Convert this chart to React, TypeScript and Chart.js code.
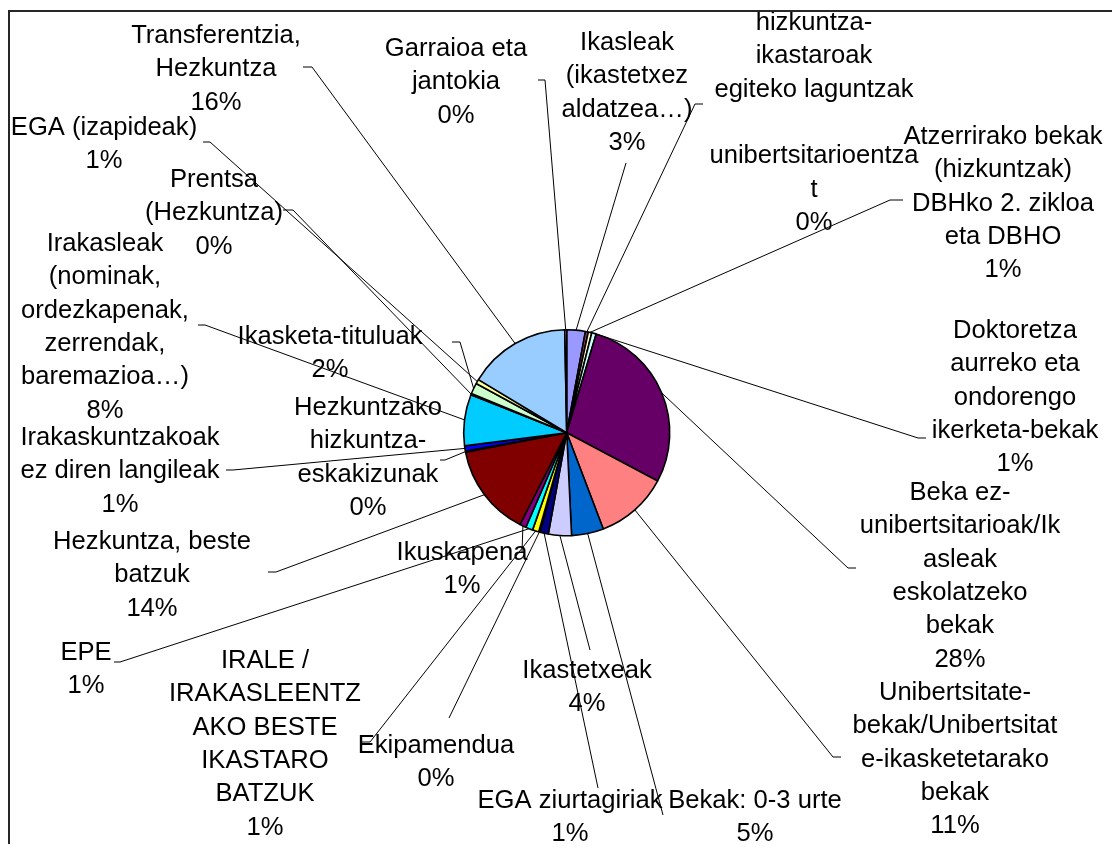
import React, { useEffect, useRef } from 'react';
import { Chart, registerables } from 'chart.js';

Chart.register(...registerables);

// ---- data ----
const categories: string[] = [
  'Ikasleak (ikastetxez aldatzea…)',
  'hizkuntza-ikastaroak egiteko laguntzak unibertsitarioentzat',
  'Atzerrirako bekak (hizkuntzak) DBHko 2. zikloa eta DBHO',
  'Doktoretza aurreko eta ondorengo ikerketa-bekak',
  'Beka ez-unibertsitarioak/Ikasleak eskolatzeko bekak',
  'Unibertsitate-bekak/Unibertsitate-ikasketetarako bekak',
  'Bekak: 0-3 urte',
  'Ikastetxeak',
  'EGA ziurtagiriak',
  'Ekipamendua',
  'IRALE / IRAKASLEENTZAKO BESTE IKASTARO BATZUK',
  'EPE',
  'Ikuskapena',
  'Hezkuntza, beste batzuk',
  'Hezkuntzako hizkuntza-eskakizunak',
  'Irakaskuntzakoak ez diren langileak',
  'Irakasleak (nominak, ordezkapenak, zerrendak, baremazioa…)',
  'Prentsa (Hezkuntza)',
  'Ikasketa-tituluak',
  'EGA (izapideak)',
  'Transferentzia, Hezkuntza',
  'Garraioa eta jantokia',
];

const values: number[] = [
  2.9, 0.45, 0.55, 0.7, 28.0, 11.4, 5.0, 3.6, 1.3, 0.2, 1.0,
  1.1, 1.0, 14.4, 0.2, 0.8, 8.0, 0.2, 1.7, 0.7, 16.0, 0.3,
];

// label text as wrapped in the picture (percentage is appended)
const labelLines: string[][] = [
  ['Ikasleak', '(ikastetxez', 'aldatzea…)'],
  ['hizkuntza-', 'ikastaroak', 'egiteko laguntzak', '', 'unibertsitarioentza', 't'],
  ['Atzerrirako bekak', '(hizkuntzak)', 'DBHko 2. zikloa', 'eta DBHO'],
  ['Doktoretza', 'aurreko eta', 'ondorengo', 'ikerketa-bekak'],
  ['Beka ez-', 'unibertsitarioak/Ik', 'asleak', 'eskolatzeko', 'bekak'],
  ['Unibertsitate-', 'bekak/Unibertsitat', 'e-ikasketetarako', 'bekak'],
  ['Bekak: 0-3 urte'],
  ['Ikastetxeak'],
  ['EGA ziurtagiriak'],
  ['Ekipamendua'],
  ['IRALE /', 'IRAKASLEENTZ', 'AKO BESTE', 'IKASTARO', 'BATZUK'],
  ['EPE'],
  ['Ikuskapena'],
  ['Hezkuntza, beste', 'batzuk'],
  ['Hezkuntzako', 'hizkuntza-', 'eskakizunak'],
  ['Irakaskuntzakoak', 'ez diren langileak'],
  ['Irakasleak', '(nominak,', 'ordezkapenak,', 'zerrendak,', 'baremazioa…)'],
  ['Prentsa', '(Hezkuntza)'],
  ['Ikasketa-tituluak'],
  ['EGA (izapideak)'],
  ['Transferentzia,', 'Hezkuntza'],
  ['Garraioa eta', 'jantokia'],
];

const colors: string[] = [
  '#9999FF', '#993366', '#FFFFCC', '#CCFFFF', '#660066', '#FF8080', '#0066CC',
  '#CCCCFF', '#000080', '#FF00FF', '#FFFF00', '#00FFFF', '#800080', '#800000',
  '#008080', '#0000FF', '#00CCFF', '#CCFFFF', '#CCFFCC', '#FFFF99', '#99CCFF',
  '#FF99CC',
];

// ---- label layout (page pixel coordinates): centre x, first baseline, leader elbow, leader end at label ----
type LabelPos = { cx: number; y0: number; elbow: [number, number]; tick: [number, number] };
const labelLayout: LabelPos[] = [
  { cx: 627, y0: 50, elbow: [626, 163], tick: [626, 163] },
  { cx: 814, y0: 30, elbow: [695, 104], tick: [703, 104] },
  { cx: 1003, y0: 144, elbow: [890, 200], tick: [903, 200] },
  { cx: 1015, y0: 338, elbow: [918, 438], tick: [926, 438] },
  { cx: 960, y0: 500, elbow: [848, 568], tick: [856, 568] },
  { cx: 955, y0: 700, elbow: [833, 757], tick: [841, 757] },
  { cx: 755, y0: 808, elbow: [663, 815], tick: [663, 815] },
  { cx: 587, y0: 678, elbow: [590, 650], tick: [590, 650] },
  { cx: 570, y0: 808, elbow: [598, 788], tick: [598, 788] },
  { cx: 436, y0: 753, elbow: [449, 718], tick: [449, 718] },
  { cx: 265, y0: 668, elbow: [370, 742], tick: [362, 742] },
  { cx: 86, y0: 660, elbow: [120, 662], tick: [114, 662] },
  { cx: 462, y0: 560, elbow: [522, 552], tick: [522, 552] },
  { cx: 152, y0: 549, elbow: [276, 572], tick: [268, 572] },
  { cx: 368, y0: 415, elbow: [445, 460], tick: [440, 460] },
  { cx: 120, y0: 445, elbow: [233, 470], tick: [226, 470] },
  { cx: 105, y0: 251, elbow: [205, 325], tick: [198, 325] },
  { cx: 214, y0: 187, elbow: [293, 210], tick: [283, 210] },
  { cx: 330, y0: 344, elbow: [460, 342], tick: [452, 342] },
  { cx: 104, y0: 135, elbow: [210, 142], tick: [203, 142] },
  { cx: 216, y0: 43, elbow: [312, 67], tick: [303, 67] },
  { cx: 456, y0: 56, elbow: [545, 80], tick: [538, 80] },
];

const W = 1104;
const H = 836;
const OFF = 8; // body margin: page -> canvas
const LINE_H = 33.3;
const FONT = '25.6px "Liberation Sans", Arial, sans-serif';

const labelPlugin = {
  id: 'excelLabels',
  afterDraw(chart: any) {
    const ctx: CanvasRenderingContext2D = chart.ctx;
    const meta = chart.getDatasetMeta(0);
    const total = values.reduce((a, b) => a + b, 0);
    ctx.save();
    // frame clip
    ctx.beginPath();
    ctx.rect(2, 4, W, H);
    ctx.clip();

    // leader lines
    ctx.strokeStyle = '#000';
    ctx.lineWidth = 1;
    meta.data.forEach((arc: any, i: number) => {
      const p = arc.getProps(['x', 'y', 'startAngle', 'endAngle', 'outerRadius'], true);
      const mid = (p.startAngle + p.endAngle) / 2;
      const sx = p.x + Math.cos(mid) * p.outerRadius;
      const sy = p.y + Math.sin(mid) * p.outerRadius;
      const L = labelLayout[i];
      ctx.beginPath();
      ctx.moveTo(sx, sy);
      ctx.lineTo(L.elbow[0] - OFF, L.elbow[1] - OFF);
      ctx.lineTo(L.tick[0] - OFF, L.tick[1] - OFF);
      ctx.stroke();
    });

    // label text
    ctx.fillStyle = '#000';
    ctx.font = FONT;
    ctx.textAlign = 'center';
    ctx.textBaseline = 'alphabetic';
    values.forEach((v, i) => {
      const L = labelLayout[i];
      const pct = Math.round((v / total) * 100) + '%';
      const lines = [...labelLines[i], pct];
      lines.forEach((t, k) => {
        if (t) ctx.fillText(t, L.cx - OFF, L.y0 - OFF + k * LINE_H);
      });
    });
    ctx.restore();

    // frame (left + top edges; right/bottom lie outside the view)
    ctx.save();
    ctx.strokeStyle = '#262626';
    ctx.lineWidth = 2;
    ctx.beginPath();
    ctx.moveTo(1, H + 10);
    ctx.lineTo(1, 3);
    ctx.lineTo(W + 10, 3);
    ctx.stroke();
    ctx.restore();
  },
};

export default function App() {
  const ref = useRef<HTMLCanvasElement | null>(null);
  useEffect(() => {
    if (!ref.current) return;
    const cx = 566.7 - OFF;
    const cy = 432.7 - OFF;
    const half = 115;
    const chart = new Chart(ref.current, {
      type: 'pie',
      data: {
        labels: categories,
        datasets: [
          {
            data: values,
            backgroundColor: colors,
            borderColor: '#000',
            borderWidth: 1.6,
            radius: 103,
          } as any,
        ],
      },
      options: {
        animation: false,
        responsive: false,
        maintainAspectRatio: false,
        devicePixelRatio: 1,
        layout: {
          padding: { left: cx - half, right: W - cx - half, top: cy - half, bottom: H - cy - half },
        },
        plugins: { legend: { display: false }, tooltip: { enabled: false } },
      },
      plugins: [labelPlugin],
    });
    return () => chart.destroy();
  }, []);
  return (
    <canvas
      ref={ref}
      width={W}
      height={H}
      style={{ display: 'block', width: W + 'px', height: H + 'px', background: '#fff' }}
    />
  );
}
